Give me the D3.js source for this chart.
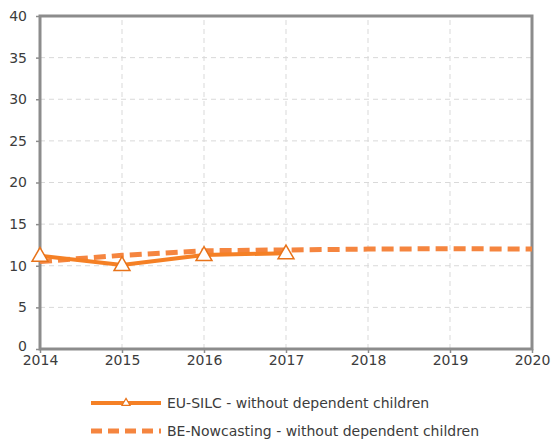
<!DOCTYPE html>
<html>
<head>
<meta charset="utf-8">
<script src="https://cdn.jsdelivr.net/npm/d3@7"></script>
<style>
  html, body { margin: 0; padding: 0; background: #fff; }
  svg { display: block; }
  text { font-family: "DejaVu Sans", sans-serif; fill: #3c3c3c; }
</style>
</head>
<body>
<svg id="chart" width="552" height="440"></svg>
<script>
// Years on the x axis
const years = [2014, 2015, 2016, 2017, 2018, 2019, 2020];
// EU-SILC series (observed years only)
const silcYears = [2014, 2015, 2016, 2017];
const silcValues = [11.2, 10.1, 11.3, 11.5];
// BE-Nowcasting series
const nowYears = [2014, 2015, 2016, 2017, 2018, 2019, 2020];
const nowValues = [10.5, 11.25, 11.8, 11.9, 12.0, 12.05, 12.0];
// Y tick labels
const yTicks = [0, 5, 10, 15, 20, 25, 30, 35, 40];
const legendLabels = [
  "EU-SILC - without dependent children",
  "BE-Nowcasting - without dependent children"
];

const svg = d3.select("#chart");
const m = { left: 40, right: 20, top: 16, bottom: 91 };
const W = 552, H = 440;

const x = d3.scaleLinear().domain([2014, 2020]).range([m.left, W - m.right]);
const y = d3.scaleLinear().domain([0, 40]).range([H - m.bottom, m.top]);

const solidColor = "#f58025";
const dashColor = "#f5853f";
const axisColor = "#8c8c8c";

// gridlines
svg.append("g").selectAll("line.h").data(yTicks.slice(1, -1)).join("line")
  .attr("x1", x(2014)).attr("x2", x(2020))
  .attr("y1", d => y(d)).attr("y2", d => y(d))
  .attr("stroke", "#d9d9d9").attr("stroke-width", 1).attr("stroke-dasharray", "5,4");
svg.append("g").selectAll("line.v").data(years.slice(1, -1)).join("line")
  .attr("x1", d => x(d)).attr("x2", d => x(d))
  .attr("y1", y(0)).attr("y2", y(40))
  .attr("stroke", "#d9d9d9").attr("stroke-width", 1).attr("stroke-dasharray", "5,4");

// axes
const yAxis = d3.axisLeft(y).tickValues(yTicks).tickSize(4).tickPadding(9);
const gy = svg.append("g").attr("transform", `translate(${x(2014)},0)`).call(yAxis);
gy.select(".domain").remove();
gy.selectAll("line").attr("stroke", axisColor).attr("stroke-width", 1.5);
gy.selectAll("text").style("font-size", "14px").attr("fill", "#3c3c3c");
// lift the zero label a little so it clears the first year label
gy.selectAll(".tick").filter(d => d === 0).select("text").attr("y", -3);

const xAxis = d3.axisBottom(x).tickValues(years).tickFormat(d3.format("d")).tickSize(4).tickPadding(2);
const gx = svg.append("g").attr("transform", `translate(0,${y(0)})`).call(xAxis);
gx.select(".domain").remove();
gx.selectAll("line").attr("stroke", axisColor).attr("stroke-width", 1.5);
gx.selectAll("text").style("font-size", "14px").attr("fill", "#3c3c3c");

// frame
svg.append("rect")
  .attr("x", x(2014)).attr("y", y(40))
  .attr("width", x(2020) - x(2014)).attr("height", y(0) - y(40))
  .attr("fill", "none").attr("stroke", axisColor).attr("stroke-width", 3);

const line = d3.line().x(d => x(d[0])).y(d => y(d[1]));

// BE-Nowcasting dashed line
svg.append("path")
  .datum(d3.zip(nowYears, nowValues))
  .attr("d", line)
  .attr("fill", "none").attr("stroke", dashColor)
  .attr("stroke-width", 5).attr("stroke-dasharray", "12,6");

// EU-SILC solid line
svg.append("path")
  .datum(d3.zip(silcYears, silcValues))
  .attr("d", line)
  .attr("fill", "none").attr("stroke", solidColor).attr("stroke-width", 4);

const tri = d3.symbol().type(d3.symbolTriangle).size(110);
svg.append("g").selectAll("path").data(d3.zip(silcYears, silcValues)).join("path")
  .attr("d", tri)
  .attr("transform", d => `translate(${x(d[0])},${y(d[1]) + 1})`)
  .attr("fill", "#fff").attr("stroke", "#e8731a").attr("stroke-width", 1.5);

// legend
const lg = svg.append("g");
const lx0 = 91, lx1 = 161;
lg.append("line").attr("x1", lx0).attr("x2", lx1).attr("y1", 403).attr("y2", 403)
  .attr("stroke", solidColor).attr("stroke-width", 4);
lg.append("path").attr("d", d3.symbol().type(d3.symbolTriangle).size(28))
  .attr("transform", `translate(${(lx0 + lx1) / 2},403)`)
  .attr("fill", "#fff").attr("stroke", "#e8731a").attr("stroke-width", 1.2);
lg.append("line").attr("x1", lx0).attr("x2", lx1).attr("y1", 431).attr("y2", 431)
  .attr("stroke", dashColor).attr("stroke-width", 5).attr("stroke-dasharray", "11,6");
lg.selectAll("text").data(legendLabels).join("text")
  .attr("x", 167).attr("y", (d, i) => 403 + i * 28)
  .attr("dy", "0.35em").style("font-size", "14px").text(d => d);
</script>
</body>
</html>
